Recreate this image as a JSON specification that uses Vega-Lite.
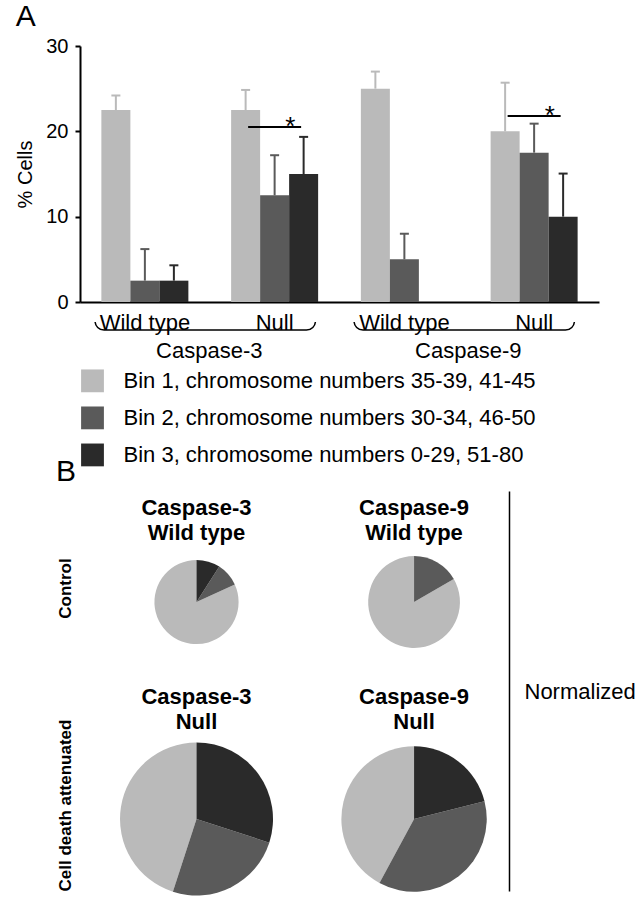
{
  "$schema": "https://vega.github.io/schema/vega-lite/v6.json",
  "padding": {"left": 15, "top": 2, "right": 5, "bottom": 2},
  "background": "white",
  "bounds": "flush",
  "spacing": 20,
  "config": {
    "font": "Liberation Sans",
    "view": {"stroke": null},
    "axis": {"grid": false, "labelColor": "black", "titleColor": "black", "domainColor": "black", "tickColor": "black"},
    "title": {"color": "black"}
  },
  "datasets": {
    "bars": [
      {"group": "C3 WT", "bin": "Bin 1", "value": 22.5, "upper": 24.2},
      {"group": "C3 WT", "bin": "Bin 2", "value": 2.5, "upper": 6.2},
      {"group": "C3 WT", "bin": "Bin 3", "value": 2.5, "upper": 4.3},
      {"group": "C3 Null", "bin": "Bin 1", "value": 22.5, "upper": 24.85},
      {"group": "C3 Null", "bin": "Bin 2", "value": 12.5, "upper": 17.2},
      {"group": "C3 Null", "bin": "Bin 3", "value": 15, "upper": 19.35},
      {"group": "C9 WT", "bin": "Bin 1", "value": 25, "upper": 27.0},
      {"group": "C9 WT", "bin": "Bin 2", "value": 5, "upper": 8.0},
      {"group": "C9 WT", "bin": "Bin 3", "value": 0, "upper": 0},
      {"group": "C9 Null", "bin": "Bin 1", "value": 20, "upper": 25.7},
      {"group": "C9 Null", "bin": "Bin 2", "value": 17.5, "upper": 20.9},
      {"group": "C9 Null", "bin": "Bin 3", "value": 10, "upper": 15.05}
    ],
    "sig": [
      {"group": "C3 Null", "y": 20.5, "star": "*"},
      {"group": "C9 Null", "y": 21.8, "star": "*"}
    ],
    "genes": [{"gene": "Caspase-3"}, {"gene": "Caspase-9"}],
    "bins": [{"bin": "Bin 1"}, {"bin": "Bin 2"}, {"bin": "Bin 3"}],
    "pies": [
      {"pie": "C3 WT", "gene": "Caspase-3", "condition": "Control", "bin": "Bin 1", "value": 22.5},
      {"pie": "C3 WT", "gene": "Caspase-3", "condition": "Control", "bin": "Bin 2", "value": 2.5},
      {"pie": "C3 WT", "gene": "Caspase-3", "condition": "Control", "bin": "Bin 3", "value": 2.5},
      {"pie": "C3 Null", "gene": "Caspase-3", "condition": "Attenuated", "bin": "Bin 1", "value": 22.5},
      {"pie": "C3 Null", "gene": "Caspase-3", "condition": "Attenuated", "bin": "Bin 2", "value": 12.5},
      {"pie": "C3 Null", "gene": "Caspase-3", "condition": "Attenuated", "bin": "Bin 3", "value": 15},
      {"pie": "C9 WT", "gene": "Caspase-9", "condition": "Control", "bin": "Bin 1", "value": 25},
      {"pie": "C9 WT", "gene": "Caspase-9", "condition": "Control", "bin": "Bin 2", "value": 5},
      {"pie": "C9 WT", "gene": "Caspase-9", "condition": "Control", "bin": "Bin 3", "value": 0},
      {"pie": "C9 Null", "gene": "Caspase-9", "condition": "Attenuated", "bin": "Bin 1", "value": 20},
      {"pie": "C9 Null", "gene": "Caspase-9", "condition": "Attenuated", "bin": "Bin 2", "value": 17.5},
      {"pie": "C9 Null", "gene": "Caspase-9", "condition": "Attenuated", "bin": "Bin 3", "value": 10}
    ],
    "pieTitles": [
      {"gene": "Caspase-3", "condition": "Control", "title": "Caspase-3\nWild type"},
      {"gene": "Caspase-9", "condition": "Control", "title": "Caspase-9\nWild type"},
      {"gene": "Caspase-3", "condition": "Attenuated", "title": "Caspase-3\nNull"},
      {"gene": "Caspase-9", "condition": "Attenuated", "title": "Caspase-9\nNull"}
    ]
  },
  "vconcat": [
    {
      "width": 519,
      "height": 256,
      "title": {"text": "A", "anchor": "start", "fontSize": 30, "fontWeight": "normal"},
      "data": {"name": "bars"},
      "layer": [
        {
          "mark": {"type": "bar"},
          "encoding": {
            "x": {"field": "group", "type": "nominal", "sort": null,
              "scale": {"domain": ["C3 WT", "C3 Null", "C9 WT", "C9 Null"], "paddingInner": 0, "paddingOuter": 0},
              "axis": {"title": null, "labelExpr": "indexof(datum.value, 'WT') >= 0 ? 'Wild type' : 'Null'", "labelAngle": 0, "labelFontSize": 22, "labelPadding": 10, "ticks": false, "domainWidth": 2}},
            "xOffset": {"field": "bin", "type": "nominal", "scale": {"domain": ["Bin 1", "Bin 2", "Bin 3"], "paddingInner": 0, "paddingOuter": 0.737}},
            "y": {"field": "value", "type": "quantitative", "title": "% Cells",
              "scale": {"domain": [0, 30], "nice": false},
              "axis": {"values": [0, 10, 20, 30], "tickSize": 5, "tickWidth": 2, "labelPadding": 7, "labelFontSize": 20, "titleFontSize": 20, "titleFontWeight": "normal", "titlePadding": 10, "domainWidth": 2}},
            "color": {"field": "bin", "type": "nominal", "scale": {"domain": ["Bin 1", "Bin 2", "Bin 3"], "range": ["#bababa", "#5a5a5a", "#2a2a2a"]}, "legend": null}
          }
        },
        {
          "mark": {"type": "rule", "strokeWidth": 2},
          "encoding": {
            "x": {"field": "group", "type": "nominal"},
            "xOffset": {"field": "bin", "type": "nominal"},
            "y": {"field": "value", "type": "quantitative", "title": "% Cells"},
            "y2": {"field": "upper"},
            "color": {"field": "bin", "type": "nominal", "legend": null}
          }
        },
        {
          "transform": [{"filter": "datum.upper > 0"}],
          "mark": {"type": "tick", "size": 9, "thickness": 2, "opacity": 1},
          "encoding": {
            "x": {"field": "group", "type": "nominal"},
            "xOffset": {"field": "bin", "type": "nominal"},
            "y": {"field": "upper", "type": "quantitative", "title": "% Cells"},
            "color": {"field": "bin", "type": "nominal", "legend": null}
          }
        },
        {
          "data": {"name": "sig"},
          "mark": {"type": "tick", "size": 53, "thickness": 2, "color": "black", "opacity": 1},
          "encoding": {
            "x": {"field": "group", "type": "nominal", "bandPosition": 0.62},
            "y": {"field": "y", "type": "quantitative", "title": "% Cells"}
          }
        },
        {
          "data": {"name": "sig"},
          "mark": {"type": "text", "fontSize": 26, "baseline": "middle", "align": "center", "color": "black"},
          "encoding": {
            "x": {"field": "group", "type": "nominal", "bandPosition": 0.62},
            "y": {"field": "y", "type": "quantitative", "title": "% Cells"},
            "text": {"field": "star"}
          }
        }
      ]
    },
    {
      "width": 519,
      "height": 9,
      "data": {"name": "genes"},
      "mark": {"type": "rect", "clip": true, "cornerRadius": 9, "fillOpacity": 0, "stroke": "black", "strokeWidth": 1.5},
      "encoding": {
        "x": {"field": "gene", "type": "nominal",
          "scale": {"type": "band", "domain": ["Caspase-3", "Caspase-9"], "paddingInner": 0.149, "paddingOuter": 0.0765, "align": 0.38},
          "axis": {"title": null, "domain": false, "ticks": false, "labelPadding": 9, "labelOffset": 4, "labelAngle": 0, "labelFontSize": 22}},
        "y": {"datum": 3, "type": "quantitative", "scale": {"domain": [0, 1], "nice": false, "zero": false}, "axis": null},
        "y2": {"datum": 0.1}
      }
    },
    {
      "width": 25,
      "height": 120,
      "data": {"name": "bins"},
      "mark": {"type": "square", "size": 520, "opacity": 1},
      "encoding": {
        "y": {"field": "bin", "type": "nominal",
          "scale": {"type": "point", "domain": ["Bin 1", "Bin 2", "Bin 3"], "padding": 0.62, "align": 0.65},
          "axis": {"orient": "right", "title": null, "domain": false, "ticks": false, "labelPadding": 18, "labelFontSize": 22, "labelAlign": "left", "labelBaseline": "middle", "labelLimit": 1000,
            "labelExpr": "datum.value == 'Bin 1' ? 'Bin 1, chromosome numbers 35-39, 41-45' : datum.value == 'Bin 2' ? 'Bin 2, chromosome numbers 30-34, 46-50' : 'Bin 3, chromosome numbers 0-29, 51-80'"}},
        "color": {"field": "bin", "type": "nominal", "legend": null}
      }
    },
    {
      "width": 429,
      "height": 400,
      "title": {"text": "B", "anchor": "start", "fontSize": 30, "fontWeight": "normal"},
      "resolve": {"scale": {"y": "independent"}},
      "layer": [
        {
          "data": {"name": "pies"},
          "transform": [
            {"joinaggregate": [{"op": "sum", "field": "value", "as": "total"}], "groupby": ["pie"]},
            {"stack": "value", "groupby": ["pie"], "sort": [{"field": "bin", "order": "descending"}], "as": ["v0", "v1"], "offset": "normalize"}
          ],
          "mark": {"type": "arc"},
          "encoding": {
            "x": {"field": "gene", "type": "nominal", "scale": {"type": "point", "domain": ["Caspase-3", "Caspase-9"], "padding": 0.486, "align": 0.551}, "axis": null},
            "y": {"field": "condition", "type": "nominal", "scale": {"type": "point", "domain": ["Control", "Attenuated"], "padding": 0.4217, "align": 0.6066},
              "axis": {"orient": "left", "title": null, "domain": false, "ticks": false, "labelAngle": 270, "labelPadding": 6, "labelOffset": -14, "labelFontSize": 17, "labelFontWeight": "bold", "labelLimit": 1000,
                "labelExpr": "datum.value == 'Attenuated' ? 'Cell death attenuated' : datum.value"}},
            "theta": {"field": "v0", "type": "quantitative", "scale": {"domain": [0, 1]}},
            "theta2": {"field": "v1"},
            "radius": {"field": "total", "type": "quantitative", "scale": {"type": "linear", "zero": true, "domain": [0, 50], "range": [0, 76.5]}},
            "color": {"field": "bin", "type": "nominal", "legend": null}
          }
        },
        {
          "data": {"name": "pieTitles"},
          "mark": {"type": "text", "fontSize": 22, "fontWeight": "bold", "baseline": "top", "align": "center", "lineBreak": "\n", "lineHeight": 25.5, "color": "black"},
          "encoding": {
            "x": {"field": "gene", "type": "nominal", "scale": {"type": "point", "domain": ["Caspase-3", "Caspase-9"], "padding": 0.486, "align": 0.551}, "axis": null},
            "y": {"field": "condition", "type": "nominal", "scale": {"type": "point", "domain": ["Control", "Attenuated"], "padding": 0.558, "align": 0.033},
              "axis": {"orient": "right", "labels": false, "ticks": false, "domain": true, "domainWidth": 1.5, "title": "Normalized", "titleAngle": 0, "titleAlign": "left", "titleBaseline": "middle", "titleFontSize": 22, "titleFontWeight": "normal", "titlePadding": 15}},
            "text": {"field": "title"}
          }
        }
      ]
    }
  ]
}
